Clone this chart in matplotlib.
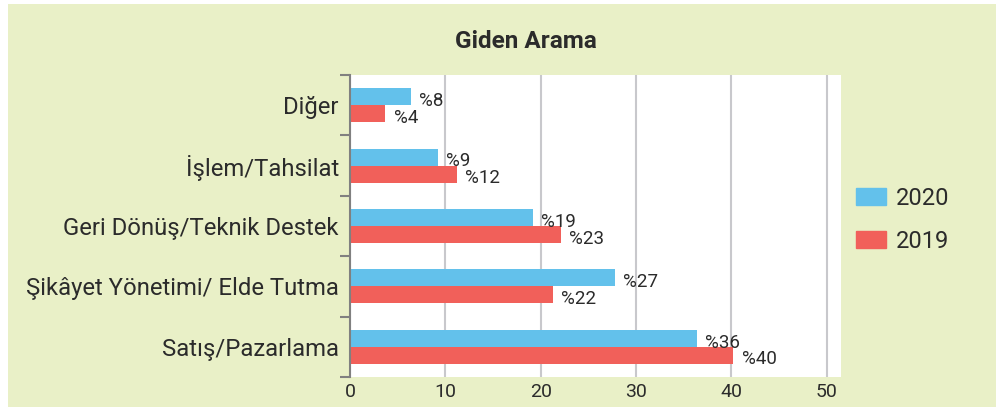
import matplotlib.pyplot as plt
from matplotlib.patches import Rectangle, Patch

plt.rcParams['font.family'] = ['Roboto', 'DejaVu Sans']

# veriler (alttan uste)
kategoriler = ['Satış/Pazarlama', 'Şikâyet Yönetimi/ Elde Tutma',
               'Geri Dönüş/Teknik Destek', 'İşlem/Tahsilat', 'Diğer']
deger_2020 = [36.4, 27.8, 19.2, 9.2, 6.4]
deger_2019 = [40.2, 21.3, 22.1, 11.2, 3.7]
etiket_2020 = ['%36', '%27', '%19', '%9', '%8']
etiket_2019 = ['%40', '%22', '%23', '%12', '%4']
x_ticks = [0, 10, 20, 30, 40, 50]

mavi = '#63c1eb'
kirmizi = '#f1605a'
yesil = '#e9f0c7'
yazi = '#2b2b2b'

W, H = 996, 407
fig = plt.figure(figsize=(W / 100, H / 100), dpi=100)
fig.patch.set_facecolor('white')
# arka plan kutusu
fig.patches.append(Rectangle((8 / W, 0), 1, (H - 4) / H, transform=fig.transFigure,
                             facecolor=yesil, edgecolor='none', zorder=-10))

ax = fig.add_axes([350 / W, 30 / H, (841 - 350) / W, (377 - 75) / H])
ax.set_facecolor('white')

y = list(range(len(kategoriler)))
h = 0.28
bar20 = ax.barh([v + h / 2 for v in y], deger_2020, height=h, color=mavi, zorder=3)
bar19 = ax.barh([v - h / 2 for v in y], deger_2019, height=h, color=kirmizi, zorder=3)

for b, t in zip(bar20, etiket_2020):
    ax.annotate(t, (b.get_width(), b.get_y() + b.get_height() / 2),
                xytext=(6, -3), textcoords='offset points', va='center',
                fontsize=13.5, color=yazi, zorder=4)
for b, t in zip(bar19, etiket_2019):
    ax.annotate(t, (b.get_width(), b.get_y() + b.get_height() / 2),
                xytext=(6, -3), textcoords='offset points', va='center',
                fontsize=13.5, color=yazi, zorder=4)

ax.set_xlim(0, 51.5)
ax.set_ylim(-0.5, len(kategoriler) - 0.5)
ax.set_xticks(x_ticks)
ax.tick_params(axis='x', length=0, pad=4, labelsize=14, labelcolor=yazi)
ax.grid(axis='x', color='#c8c8cc', linewidth=1.5, zorder=1)

# y ekseni: kategori sinirlarinda tikler, ortada etiketler
ax.set_yticks([v - 0.5 for v in range(len(kategoriler) + 1)])
ax.set_yticklabels([])
ax.tick_params(axis='y', which='major', length=7, width=1.5, color='#808080')
ax.set_yticks(y, minor=True)
ax.set_yticklabels(kategoriler, minor=True)
ax.tick_params(axis='y', which='minor', length=0, pad=8, labelsize=17.2, labelcolor=yazi)

for s in ['top', 'right', 'bottom']:
    ax.spines[s].set_visible(False)
ax.spines['left'].set_color('#808080')
ax.spines['left'].set_linewidth(1.5)
ax.spines['left'].set_zorder(5)

fig.text(526 / W, 1 - 41 / H, 'Giden Arama', ha='center', va='center',
         fontsize=17.5, fontweight='bold', color=yazi)

fig.legend(handles=[Patch(color=mavi, label='2020'), Patch(color=kirmizi, label='2019')],
           loc='upper left', bbox_to_anchor=(856 / W, 1 - 187 / H), frameon=False,
           borderpad=0, borderaxespad=0,
           fontsize=17, handlelength=1.27, handleheight=0.72, handletextpad=0.42,
           labelspacing=0.85, labelcolor=yazi)

fig.savefig('out.png', dpi=100, facecolor=fig.get_facecolor())
